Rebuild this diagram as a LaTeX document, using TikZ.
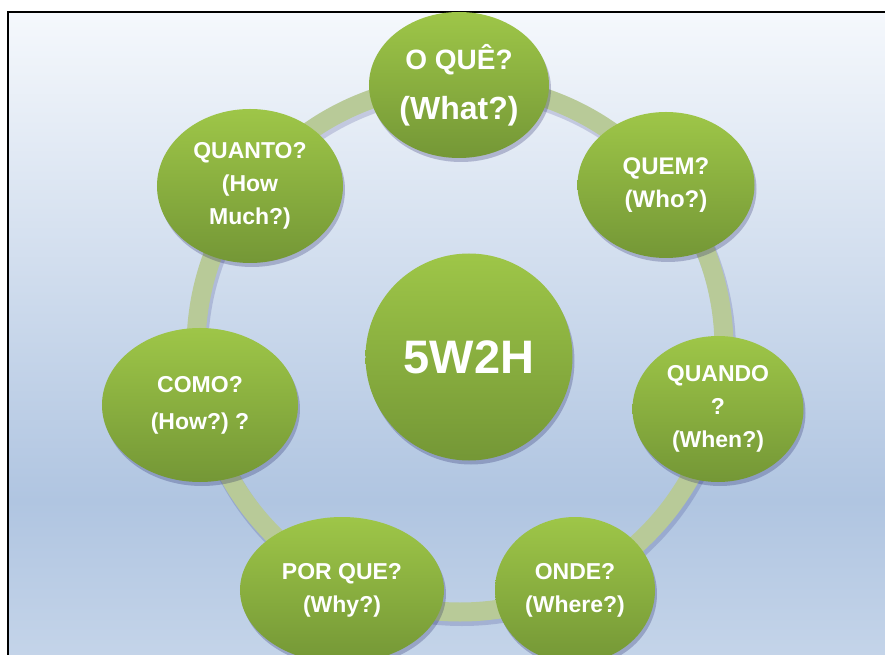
\documentclass[tikz,border=0pt]{standalone}
\usepackage{fontspec}
\setmainfont{Liberation Sans}
\usepackage{tikz}
\usetikzlibrary{shapes.geometric,shadows}
\frenchspacing
\definecolor{leafTop}{RGB}{158,198,72}
\definecolor{leafBottom}{RGB}{116,151,54}
\definecolor{ringGreen}{RGB}{184,202,152}
\definecolor{skyTop}{RGB}{245,248,252}
\definecolor{skyMid}{RGB}{176,197,225}
\definecolor{skyLow}{RGB}{196,212,233}
\pgfdeclareverticalshading{sky}{100bp}{color(0bp)=(skyLow); color(25bp)=(skyLow); color(37bp)=(skyMid); color(75bp)=(skyTop); color(100bp)=(skyTop)}

\begin{document}
\begin{tikzpicture}[x=1pt,y=1pt,
		leaf/.style={ellipse, inner sep=0pt, align=center, text=white,
			top color=leafTop, bottom color=leafBottom,
			drop shadow={shadow xshift=2pt, shadow yshift=-4pt, opacity=0.22, fill=black!70!blue},
			font=\bfseries\fontsize{23}{33}\selectfont},
		core/.style={leaf, circle, minimum size=207pt, font=\bfseries\fontsize{47}{50}\selectfont}]
		\useasboundingbox (-460,-307) rectangle (425,348);
		% background and frame
		\fill[shading=sky] (-452,-307) rectangle (425,336);
		\draw[line width=1.5pt] (-452,-307) -- (-452,336) -- (425,336);
		% ring
		\coordinate (ring) at (0,0);
		\draw[black!60!blue, opacity=0.15, line width=20pt] ([xshift=2pt,yshift=-4pt]ring) circle[radius=264];
		\draw[ringGreen, line width=19pt] (ring) circle[radius=264];
		% the seven questions
		\node[leaf, minimum width=180pt, minimum height=146pt, font=\bfseries\fontsize{28}{50}\selectfont] (what) at (-1,263)
			{O QUÊ?\\{\fontsize{32}{50}\selectfont(What?)}};
		\node[leaf, minimum width=177pt, minimum height=146pt, font=\bfseries\fontsize{24}{33}\selectfont] (who) at (206,163) {QUEM?\\(Who?)};
		\node[leaf, minimum width=171pt, minimum height=146pt] (when) at (258,-61) {QUANDO\\?\\(When?)};
		\node[leaf, minimum width=160pt, minimum height=146pt] (where) at (115,-242) {ONDE?\\(Where?)};
		\node[leaf, minimum width=204pt, minimum height=146pt] (why) at (-118,-242) {POR QUE?\\(Why?)};
		\node[leaf, minimum width=196pt, minimum height=154pt, font=\bfseries\fontsize{23}{37}\selectfont] (how) at (-260,-57) {COMO?\\(How?) ?};
		\node[leaf, minimum width=186pt, minimum height=154pt] (howmuch) at (-210,162) {QUANTO?\\(How\\Much?)};
		% center
		\node[core] (hub) at (9,-9) {5W2H};
	\end{tikzpicture}
\end{document}
